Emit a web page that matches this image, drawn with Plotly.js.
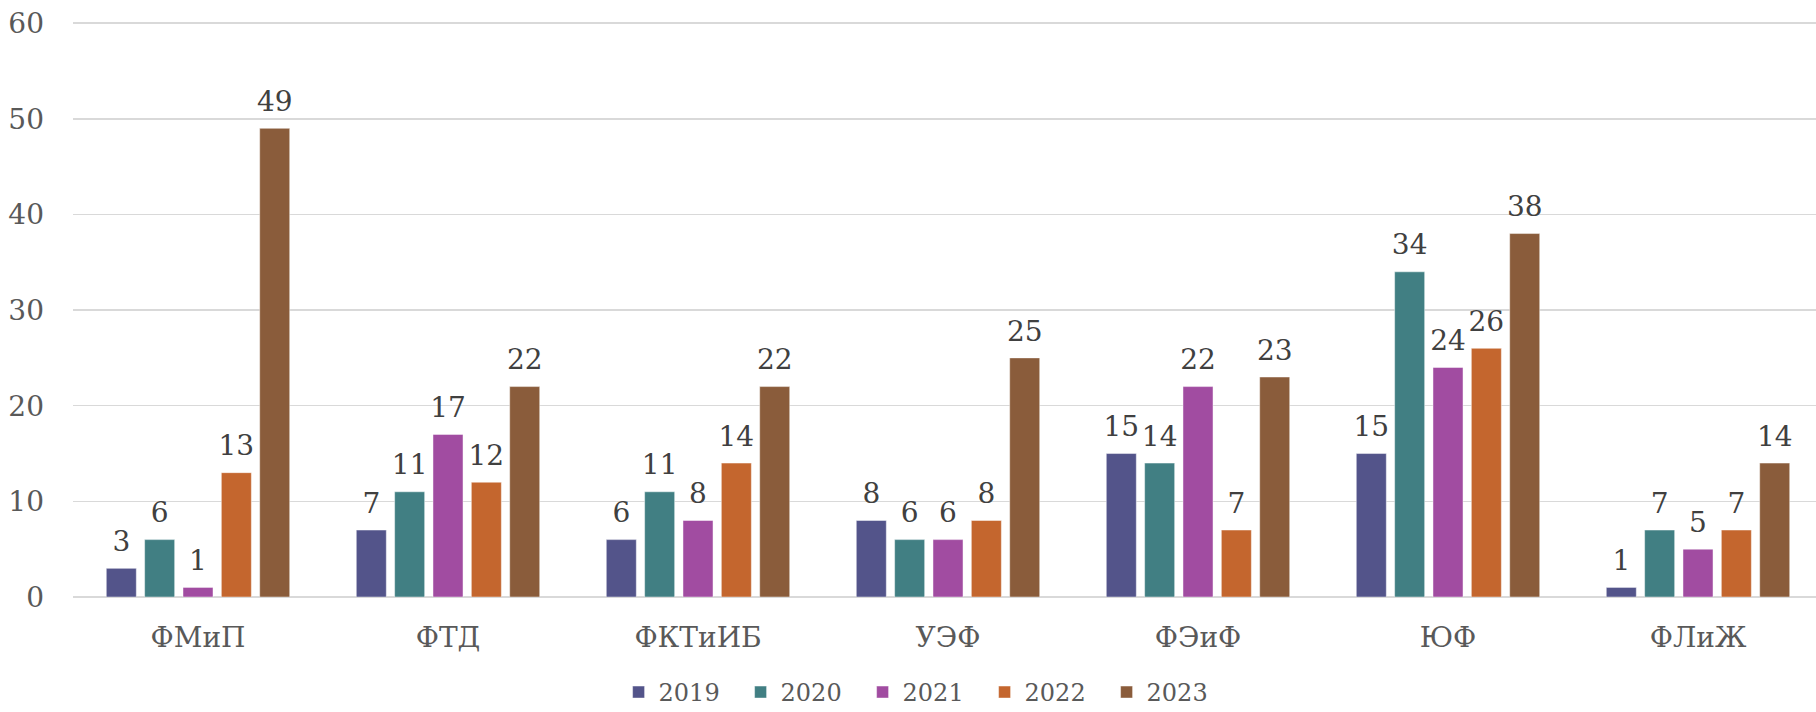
<!DOCTYPE html>
<html>
<head>
<meta charset="utf-8">
<script src="https://cdn.plot.ly/plotly-3.0.1.min.js"></script>
<style>html,body{margin:0;padding:0;background:#fff;}#chart{width:1816px;height:712px;}</style>
</head>
<body>
<div id="chart"></div>
<script>
const categories = ["ФМиП", "ФТД", "ФКТиИБ", "УЭФ", "ФЭиФ", "ЮФ", "ФЛиЖ"];
const years = ["2019", "2020", "2021", "2022", "2023"];
const v2019 = [3, 7, 6, 8, 15, 15, 1];
const v2020 = [6, 11, 11, 6, 14, 34, 7];
const v2021 = [1, 17, 8, 6, 22, 24, 5];
const v2022 = [13, 12, 14, 8, 7, 26, 7];
const v2023 = [49, 22, 22, 25, 23, 38, 14];
const yTicks = [0, 10, 20, 30, 40, 50, 60];

const series = [v2019, v2020, v2021, v2022, v2023];
const colors = ["#53548a", "#417f83", "#a14ca1", "#c4662e", "#8a5c3b"];
const FONT = "DejaVu Serif, Georgia, serif";
const GAP = 0.233;

const barTraces = series.map((vals, i) => ({
  type: "bar",
  name: years[i],
  x: categories,
  y: vals,
  offsetgroup: years[i],
  marker: {color: colors[i], line: {color: "rgba(255,255,255,0.45)", width: 1}},
  hoverinfo: "skip"
}));

const labelTraces = series.map((vals, i) => ({
  type: "scatter",
  mode: "markers+text",
  name: years[i] + " labels",
  x: categories,
  y: vals,
  offsetgroup: years[i],
  text: vals.map(String),
  textposition: "top center",
  marker: {size: 15, opacity: 0, color: colors[i]},
  textfont: {family: FONT, size: 28, color: "#404040"},
  cliponaxis: false,
  showlegend: false,
  hoverinfo: "skip"
}));

const layout = {
  width: 1816,
  height: 712,
  margin: {l: 73, r: 0, t: 22, b: 115, autoexpand: false},
  paper_bgcolor: "#ffffff",
  plot_bgcolor: "#ffffff",
  barmode: "group",
  bargap: GAP,
  bargroupgap: 0.217,
  scattermode: "group",
  scattergap: GAP,
  showlegend: true,
  legend: {
    orientation: "h",
    x: 0.488, xanchor: "center",
    y: -0.166, yanchor: "middle",
    entrywidth: 77,
    font: {family: FONT, size: 24, color: "#595959"},
    itemclick: false
  },
  xaxis: {
    type: "category",
    range: [-0.5, 6.472],
    automargin: false,
    showgrid: false,
    zeroline: false,
    showline: false,
    ticks: "",
    ticklabelstandoff: 21,
    tickfont: {family: FONT, size: 28, color: "#595959"}
  },
  yaxis: {
    range: [0, 60.12],
    automargin: false,
    tickvals: yTicks,
    ticktext: yTicks.map(String),
    showgrid: true,
    gridcolor: "#d9d9d9",
    gridwidth: 1.5,
    zeroline: true,
    zerolinecolor: "#d9d9d9",
    zerolinewidth: 1.5,
    showline: false,
    ticks: "",
    ticklabelstandoff: 28,
    tickfont: {family: FONT, size: 28, color: "#595959"}
  }
};

Plotly.newPlot("chart", barTraces.concat(labelTraces), layout, {displayModeBar: false, staticPlot: true});
</script>
</body>
</html>
